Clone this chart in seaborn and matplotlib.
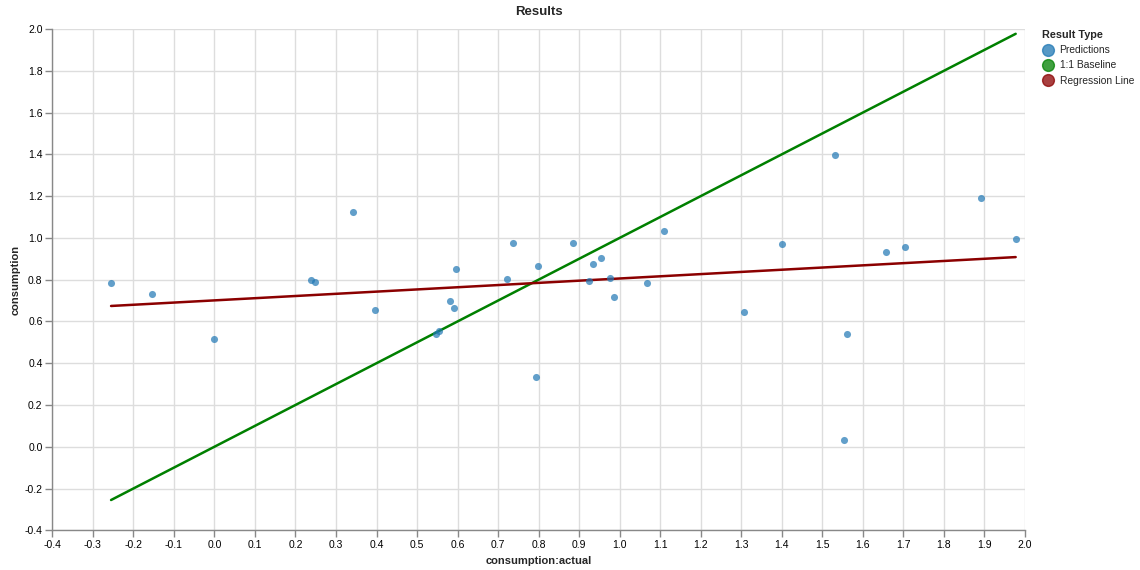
import numpy as np
import pandas as pd
import matplotlib
matplotlib.use("Agg")
import matplotlib.pyplot as plt
from matplotlib.lines import Line2D
import seaborn as sns

# ---- data ----
actual = [-0.255, -0.154, 0.0, 0.238, 0.248, 0.342, 0.396, 0.546, 0.553, 0.581,
          0.590, 0.597, 0.722, 0.737, 0.793, 0.798, 0.885, 0.925, 0.935, 0.955,
          0.976, 0.985, 1.067, 1.109, 1.307, 1.400, 1.532, 1.553, 1.561, 1.656,
          1.704, 1.891, 1.977]
predicted = [0.783, 0.731, 0.515, 0.798, 0.788, 1.124, 0.655, 0.541, 0.554, 0.697,
             0.662, 0.851, 0.804, 0.974, 0.332, 0.865, 0.974, 0.793, 0.876, 0.903,
             0.809, 0.718, 0.785, 1.033, 0.643, 0.970, 1.395, 0.031, 0.538, 0.934,
             0.956, 1.190, 0.996]
baseline_x = [-0.255, 1.977]
baseline_y = [-0.255, 1.977]
regression_x = [-0.255, 1.977]
regression_y = [0.674, 0.908]
x_ticks = [-0.4, -0.3, -0.2, -0.1, 0.0, 0.1, 0.2, 0.3, 0.4, 0.5, 0.6, 0.7, 0.8,
           0.9, 1.0, 1.1, 1.2, 1.3, 1.4, 1.5, 1.6, 1.7, 1.8, 1.9, 2.0]
y_ticks = [-0.4, -0.2, 0.0, 0.2, 0.4, 0.6, 0.8, 1.0, 1.2, 1.4, 1.6, 1.8, 2.0]
legend_labels = ["Predictions", "1:1 Baseline", "Regression Line"]
colors = ["#1f77b4", "#008000", "#8b0000"]

sns.set_style("white")
plt.rcParams['font.family'] = ['Liberation Sans', 'DejaVu Sans']

W, H = 1140, 570
fig = plt.figure(figsize=(W / 100, H / 100), dpi=100)
ax = fig.add_axes([52.3 / W, 1 - 530.3 / H, (1025 - 52.3) / W, (530.3 - 29) / H])

pred_df = pd.DataFrame({"x": actual, "y": predicted})
base_df = pd.DataFrame({"x": baseline_x, "y": baseline_y})
reg_df = pd.DataFrame({"x": regression_x, "y": regression_y})

sns.lineplot(data=base_df, x="x", y="y", ax=ax, color=colors[1], lw=1.8, zorder=3)
sns.lineplot(data=reg_df, x="x", y="y", ax=ax, color=colors[2], lw=1.8, zorder=3)
sns.scatterplot(data=pred_df, x="x", y="y", ax=ax, color=colors[0], alpha=0.7,
                s=26, linewidth=0, zorder=4)

ax.set_xlim(-0.4, 2.0)
ax.set_ylim(-0.4, 2.0)
ax.set_xticks(x_ticks)
ax.set_yticks(y_ticks)
ax.set_xticklabels([f"{v:.1f}" for v in x_ticks])
ax.set_yticklabels([f"{v:.1f}" for v in y_ticks])
ax.grid(True, color="#dddddd", lw=1)
ax.set_axisbelow(True)
for s in ["top", "right"]:
    ax.spines[s].set_visible(False)
for s in ["left", "bottom"]:
    ax.spines[s].set_color("#888888")
    ax.spines[s].set_linewidth(1)
ax.tick_params(axis="both", length=5, width=1, color="#888888", labelsize=7.5,
               labelcolor="#000000", pad=2, direction="out")
ax.tick_params(axis="x", bottom=True)
ax.tick_params(axis="y", left=True)
ax.set_xlabel("consumption:actual", fontsize=8, fontweight="bold", labelpad=4)
ax.set_ylabel("consumption", fontsize=8, fontweight="bold", labelpad=3)
fig.text(538.5 / W, 1 - 12 / H, "Results", ha="center", va="center",
         fontsize=9.5, fontweight="bold")

handles = [Line2D([0], [0], marker="o", linestyle="", markersize=8.5,
                  markerfacecolor=c, markeredgecolor=c, alpha=0.75)
           for c in colors]
leg = fig.legend(handles, legend_labels, title="Result Type",
                 loc="upper left", bbox_to_anchor=(1037 / W, 1 - 25 / H),
                 frameon=False, fontsize=7.4, title_fontsize=7.8,
                 handletextpad=0.6, labelspacing=0.5, borderpad=0,
                 handlelength=1.1)
leg.get_title().set_fontweight("bold")
leg._legend_box.align = "left"

fig.savefig("out.png", dpi=100)
